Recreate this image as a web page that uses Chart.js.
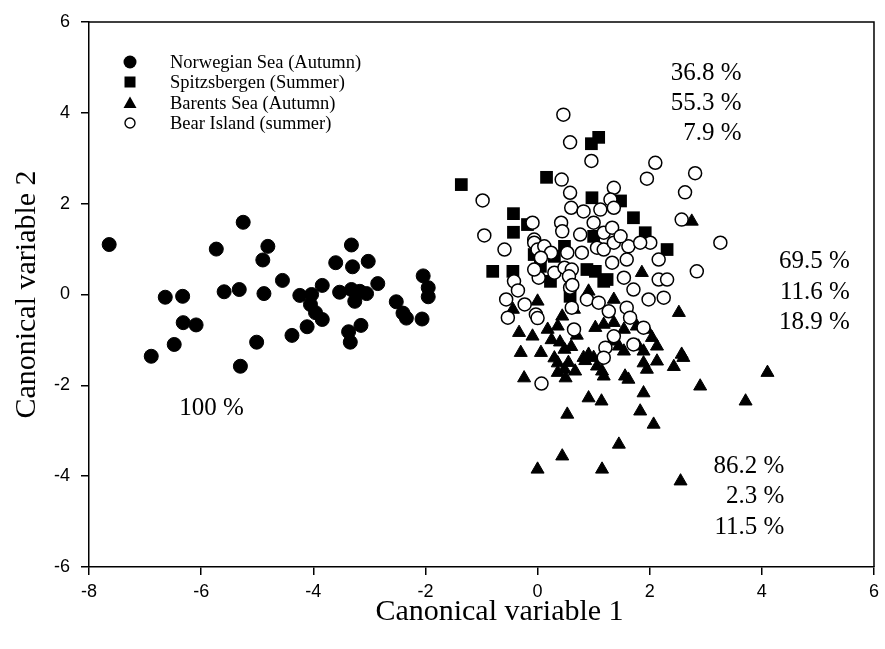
<!DOCTYPE html>
<html>
<head>
<meta charset="utf-8">
<style>
html,body{margin:0;padding:0;background:#fff;}
#wrap{width:885px;height:649px;position:relative;}
</style>
<script src="https://cdn.jsdelivr.net/npm/chart.js@4.4.1/dist/chart.umd.min.js"></script>
</head>
<body>
<div id="wrap"><canvas id="c" width="885" height="649"></canvas></div>
<script>
// ---------------- DATA ----------------
const seriesNames = ['Norwegian Sea (Autumn)', 'Spitzsbergen (Summer)', 'Barents Sea (Autumn)', 'Bear Island (summer)'];
const xTicks = [-8, -6, -4, -2, 0, 2, 4, 6];
const yTicks = [-6, -4, -2, 0, 2, 4, 6];
const xTitle = 'Canonical variable 1';
const yTitle = 'Canonical variable 2';

const norwegianX = [-7.64,-5.25,-5.73,-4.81,-4.90,-3.32,-3.60,-3.30,-3.02,-4.55,-3.84,-2.85,-6.64,-6.33,-5.59,-5.32,-4.88,-4.24,-4.03,-4.05,-3.96,-3.84,-3.53,-3.32,-3.17,-3.05,-3.26,-6.32,-6.09,-6.48,-6.89,-5.30,-5.01,-4.38,-4.11,-3.37,-3.34,-3.15,-2.52,-2.40,-2.34,-2.04,-1.95,-1.95,-2.06];
const norwegianY = [1.10,1.59,1.00,1.06,0.76,1.09,0.70,0.61,0.73,0.31,0.20,0.24,-0.06,-0.04,0.06,0.11,0.02,-0.02,0.00,-0.22,-0.40,-0.55,0.05,0.11,0.07,0.02,-0.15,-0.62,-0.67,-1.10,-1.36,-1.58,-1.05,-0.90,-0.71,-0.82,-1.05,-0.68,-0.16,-0.41,-0.52,0.41,0.15,-0.05,-0.54];

const spitsX = [-1.36,0.16,1.09,0.96,0.97,1.48,1.71,-0.43,-0.43,-0.18,1.92,2.31,-0.80,-0.44,-0.06,0.48,1.00,1.03,1.24,0.05,0.30,0.58,0.88,1.18,0.23];
const spitsY = [2.42,2.58,3.46,3.32,2.13,2.06,1.69,1.78,1.37,1.54,1.36,0.99,0.51,0.51,0.88,1.06,1.28,0.51,0.33,0.62,0.84,-0.04,0.55,0.29,0.29];

const barentsX = [2.75,1.86,0.00,-0.44,-0.33,-0.09,-0.30,0.06,0.48,0.36,0.18,0.91,1.36,2.52,1.03,1.54,2.04,1.80,2.13,2.57,-0.24,0.36,0.48,0.50,0.67,0.82,1.00,1.06,1.18,0.91,1.14,0.53,1.56,1.62,1.89,1.95,2.13,2.43,2.60,2.90,1.89,1.83,2.07,1.45,0.44,0.00,1.15,2.55,4.10,3.71,1.33,1.45,1.95,1.77,1.36,1.18,0.44,0.65,0.91,0.85,1.15,0.36,1.54,1.89,0.25,0.40,0.60,0.30,0.55,0.70];
const barentsY = [1.61,0.48,-0.15,-0.33,-0.84,-0.92,-1.28,-1.28,-1.21,-0.70,-0.77,0.07,-0.11,-0.40,-0.73,-0.77,-0.95,-1.14,-1.14,-1.32,-1.84,-1.51,-1.65,-1.84,-1.69,-1.39,-1.39,-1.58,-1.80,-2.28,-2.35,-2.64,-1.80,-1.87,-1.51,-1.65,-1.47,-1.59,-1.39,-2.02,-2.17,-2.57,-2.86,-3.30,-3.56,-3.85,-3.85,-4.11,-1.72,-2.35,-1.03,-1.14,-0.77,-0.70,-0.62,-0.66,-0.48,-0.33,-1.32,-1.46,-1.69,-1.72,-1.25,-1.25,-1.00,-1.05,-1.15,-1.40,-1.50,-0.90];

const bearX = [0.46,0.58,0.43,-0.98,0.58,0.60,-0.95,0.42,0.44,-0.06,-0.09,0.96,2.10,1.95,2.81,2.63,1.36,2.57,0.82,1.12,1.30,1.36,1.00,0.76,1.18,1.33,2.01,2.16,3.26,2.84,-0.59,-0.06,0.00,0.12,0.24,0.53,0.79,1.06,1.18,1.36,1.62,1.83,1.33,1.59,2.16,2.31,0.02,0.30,0.48,0.61,1.54,-0.42,-0.35,-0.56,-0.53,-0.23,-0.03,0.06,-0.06,0.56,0.58,0.61,1.48,1.71,1.98,2.25,0.88,1.09,1.27,1.59,0.65,1.36,1.65,1.89,1.21,1.71,1.18,0.07,0.00,0.62];
const bearY = [3.96,3.35,2.53,2.07,2.24,1.91,1.30,1.58,1.39,1.21,1.58,2.94,2.90,2.55,2.67,2.25,2.35,1.65,1.83,1.87,2.09,1.91,1.58,1.32,1.36,1.47,1.14,0.77,1.14,0.51,0.99,1.14,0.99,1.06,0.92,0.92,0.92,1.03,0.99,1.14,1.06,1.14,0.70,0.77,0.33,0.33,0.37,0.48,0.59,0.55,0.37,0.29,0.09,-0.11,-0.51,-0.22,-0.44,0.81,0.55,0.40,0.15,-0.29,1.28,0.11,-0.11,-0.07,-0.11,-0.18,-0.37,-0.29,-0.77,-0.92,-0.51,-0.73,-1.17,-1.10,-1.39,-1.96,-0.52,0.21];

// Explained-percentage labels
const annoGroupA = ['36.8 %', '55.3 %', '7.9 %'];
const annoGroupB = ['69.5 %', '11.6 %', '18.9 %'];
const annoGroupC = ['86.2 %', '2.3 %', '11.5 %'];
const annoSingle = ['100 %'];

// ---------------- CHART ----------------
const toPoints = (xs, ys) => xs.map((x, i) => ({x: x, y: ys[i]}));

const SERIF = "'Liberation Serif', 'Times New Roman', serif";
const SANS = "'Liberation Sans', Arial, sans-serif";

// annotation anchors (data units)
const annoLayout = [
  {lines: annoGroupA, x: 3.64, y: 4.86, dy: -0.66, align: 'right'},
  {lines: annoGroupB, x: 5.57, y: 0.72, dy: -0.67, align: 'right'},
  {lines: annoGroupC, x: 4.40, y: -3.78, dy: -0.67, align: 'right'},
  {lines: annoSingle, x: -6.39, y: -2.50, dy: 0, align: 'left'}
];

const framePlugin = {
  id: 'frame',
  afterDraw(chart) {
    const {ctx, chartArea: a} = chart;
    ctx.save();
    ctx.strokeStyle = '#000';
    ctx.lineWidth = 1.5;
    ctx.beginPath();
    ctx.moveTo(a.left, a.top);
    ctx.lineTo(a.right, a.top);
    ctx.lineTo(a.right, a.bottom);
    ctx.stroke();
    // x-axis title, slightly right of the axis centre as in the source figure
    ctx.fillStyle = '#000';
    ctx.font = '30px ' + SERIF;
    ctx.textAlign = 'center';
    ctx.textBaseline = 'middle';
    ctx.fillText(xTitle, (a.left + a.right) / 2 + 18, a.bottom + 45);
    ctx.restore();
  }
};

const annoPlugin = {
  id: 'anno',
  afterDraw(chart) {
    const {ctx} = chart;
    const sx = chart.scales.x, sy = chart.scales.y;
    ctx.save();
    ctx.fillStyle = '#000';
    ctx.font = '25px ' + SERIF;
    ctx.textBaseline = 'middle';
    annoLayout.forEach(g => {
      ctx.textAlign = g.align;
      g.lines.forEach((t, i) => {
        ctx.fillText(t, sx.getPixelForValue(g.x), sy.getPixelForValue(g.y + i * g.dy));
      });
    });
    ctx.restore();
  }
};

const legendPlugin = {
  id: 'customLegend',
  afterDraw(chart) {
    const {ctx, chartArea: a} = chart;
    const mx = a.left + 41, tx = a.left + 81;
    const rows = [40, 60, 81, 101];
    ctx.save();
    ctx.font = '18.5px ' + SERIF;
    ctx.textBaseline = 'middle';
    ctx.textAlign = 'left';
    chart.data.datasets.forEach((ds, i) => {
      const y = a.top + rows[i];
      ctx.fillStyle = '#000';
      ctx.strokeStyle = '#000';
      ctx.lineWidth = 1.4;
      ctx.beginPath();
      if (i === 0) {
        ctx.arc(mx, y, 6.5, 0, Math.PI * 2);
        ctx.fill();
      } else if (i === 1) {
        ctx.rect(mx - 5.5, y - 5.5, 11, 11);
        ctx.fill();
      } else if (i === 2) {
        ctx.moveTo(mx, y - 6.5);
        ctx.lineTo(mx + 6.5, y + 5);
        ctx.lineTo(mx - 6.5, y + 5);
        ctx.closePath();
        ctx.fill();
      } else {
        ctx.arc(mx, y, 5, 0, Math.PI * 2);
        ctx.fillStyle = '#fff';
        ctx.fill();
        ctx.stroke();
      }
      ctx.fillStyle = '#000';
      ctx.fillText(ds.label, tx, y + 1);
    });
    ctx.restore();
  }
};

new Chart(document.getElementById('c').getContext('2d'), {
  type: 'scatter',
  data: {
    datasets: [
      {label: seriesNames[0], data: toPoints(norwegianX, norwegianY), pointStyle: 'circle', pointRadius: 7,
       backgroundColor: '#000', borderColor: '#000', borderWidth: 1, order: 3},
      {label: seriesNames[1], data: toPoints(spitsX, spitsY), pointStyle: 'rect', pointRadius: 9,
       backgroundColor: '#000', borderColor: '#000', borderWidth: 0, order: 2},
      {label: seriesNames[2], data: toPoints(barentsX, barentsY), pointStyle: 'triangle', pointRadius: 7.5,
       backgroundColor: '#000', borderColor: '#000', borderWidth: 1, order: 1},
      {label: seriesNames[3], data: toPoints(bearX, bearY), pointStyle: 'circle', pointRadius: 6.5,
       backgroundColor: '#fff', borderColor: '#000', borderWidth: 1.5, order: 0}
    ]
  },
  options: {
    responsive: false,
    animation: false,
    devicePixelRatio: 1,
    layout: {padding: {left: 0, right: 7, top: 22, bottom: 0}},
    plugins: {legend: {display: false}, tooltip: {enabled: false}},
    elements: {point: {hoverRadius: 7}},
    scales: {
      x: {
        type: 'linear', min: xTicks[0], max: xTicks[xTicks.length - 1],
        afterBuildTicks: s => { s.ticks = xTicks.map(v => ({value: v})); },
        ticks: {color: '#000', font: {family: SANS, size: 18}, padding: 6, maxRotation: 0},
        grid: {drawOnChartArea: false, drawTicks: true, tickLength: 8, color: '#000', lineWidth: 1.5},
        border: {color: '#000', width: 1.5},
        title: {display: false},
        afterFit: s => { s.height = 82; }
      },
      y: {
        type: 'linear', min: yTicks[0], max: yTicks[yTicks.length - 1],
        afterBuildTicks: s => { s.ticks = yTicks.map(v => ({value: v})); },
        ticks: {color: '#000', font: {family: SANS, size: 18}, padding: 11},
        grid: {drawOnChartArea: false, drawTicks: true, tickLength: 8, color: '#000', lineWidth: 1.5},
        border: {color: '#000', width: 1.5},
        title: {display: true, text: yTitle, color: '#000', font: {family: SERIF, size: 30}, padding: {top: 9, bottom: 0}},
        afterFit: s => { s.width = 89; }
      }
    }
  },
  plugins: [framePlugin, annoPlugin, legendPlugin]
});
</script>
</body>
</html>
